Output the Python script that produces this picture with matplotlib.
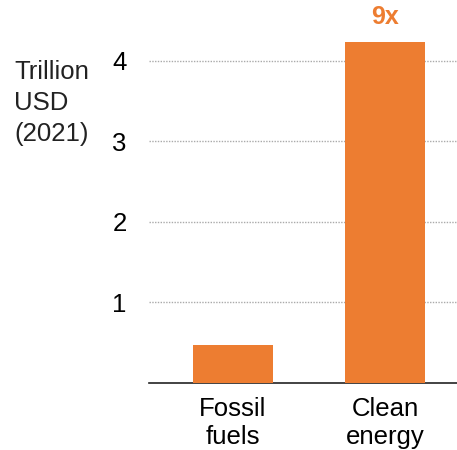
import numpy as np
import matplotlib.pyplot as plt

plt.rcParams['font.family'] = ['Liberation Sans', 'DejaVu Sans']

# data
categories = ['Fossil\nfuels', 'Clean\nenergy']
values = [0.47, 4.23]
ratio_label = '9x'
yticks = [1, 2, 3, 4]

orange = '#ED7D31'

fig = plt.figure(figsize=(4.57, 4.5), dpi=100)
ax = fig.add_axes([0.326, 0.149, 0.674, 0.787])

x = np.arange(len(categories))
ax.bar(x, values, width=0.526, color=orange, zorder=3)

# ratio label above the clean energy bar
ax.text(x[1], values[1] + 0.17, ratio_label, ha='center', va='bottom',
        color=orange, fontsize=18, fontweight='bold')

ax.set_xlim(-0.553, 1.474)
ax.set_ylim(0, 4.4)
ax.set_xticks(x)
ax.set_xticklabels(categories, fontsize=18.5, linespacing=1.23)
ax.set_yticks(yticks)
ax.set_yticklabels([str(t) for t in yticks], fontsize=18.5)
ax.tick_params(axis='both', length=0)
ax.tick_params(axis='y', pad=16)
ax.tick_params(axis='x', pad=10)

ax.grid(axis='y', color='#aaaaaa', linestyle=(0, (1, 1)), linewidth=1, zorder=0)

for s in ['top', 'right', 'left']:
    ax.spines[s].set_visible(False)
ax.spines['bottom'].set_color('#222222')
ax.spines['bottom'].set_linewidth(1.2)

fig.text(0.031, 0.866, 'Trillion\nUSD\n(2021)', fontsize=18.5, ha='left', va='top',
         linespacing=1.37, color='#222222')

plt.savefig('out.png', dpi=100)
